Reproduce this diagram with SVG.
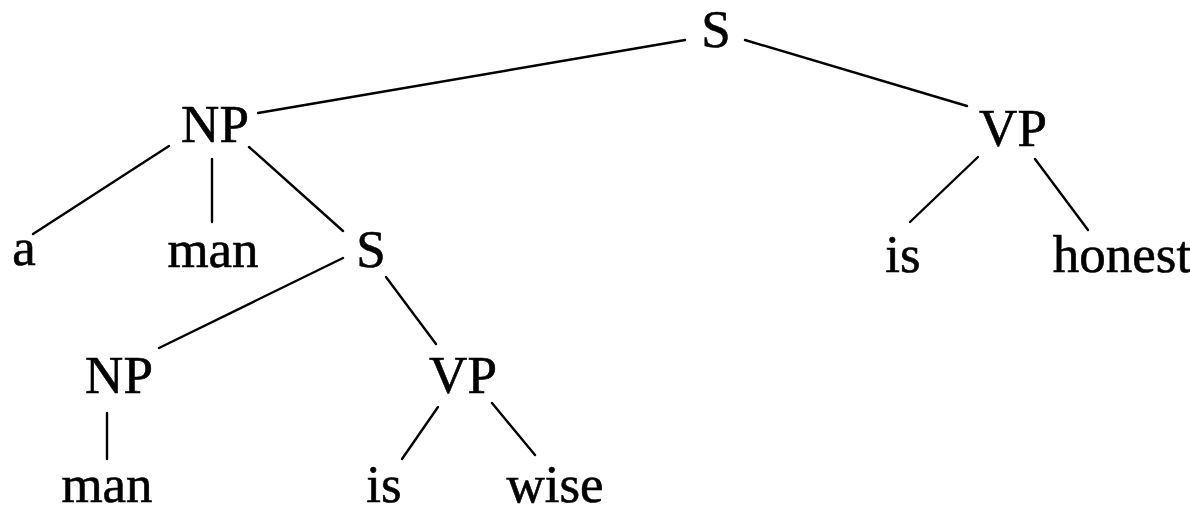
<svg xmlns="http://www.w3.org/2000/svg" width="1190" height="512" viewBox="0 0 1190 512">
<style>
  .lbl { font-family: "Liberation Serif", "Times New Roman", serif; font-size: 53px; fill: #000; stroke: #000; stroke-width: 0.6; text-anchor: middle; }
  .edge { stroke: #000; stroke-width: 2.4; fill: none; stroke-linecap: round; }
</style>
<rect width="1190" height="512" fill="#fff"/>
<g id="connectors">
  <line class="edge" x1="685" y1="40" x2="258" y2="113"/>
  <line class="edge" x1="745" y1="40" x2="967" y2="106"/>
  <line class="edge" x1="169" y1="146" x2="33" y2="234"/>
  <line class="edge" x1="212" y1="159" x2="212" y2="222"/>
  <line class="edge" x1="249" y1="147" x2="343" y2="231"/>
  <line class="edge" x1="343" y1="258" x2="159" y2="348"/>
  <line class="edge" x1="386" y1="277" x2="436" y2="344"/>
  <line class="edge" x1="978" y1="157" x2="910" y2="222"/>
  <line class="edge" x1="1035" y1="159" x2="1088" y2="230"/>
  <line class="edge" x1="107" y1="413" x2="107" y2="459"/>
  <line class="edge" x1="438" y1="407" x2="402" y2="459"/>
  <line class="edge" x1="492" y1="403" x2="535" y2="455"/>
</g>
<g id="n-S"><text class="lbl" x="716" y="47">S</text></g>
<g id="n-NP1"><text class="lbl" x="215" y="142">NP</text></g>
<g id="n-VP1"><text class="lbl" x="1013" y="146">VP</text></g>
<g id="n-a"><text class="lbl" x="24" y="265">a</text></g>
<g id="n-man1"><text class="lbl" x="213" y="267">man</text></g>
<g id="n-S2"><text class="lbl" x="371" y="267">S</text></g>
<g id="n-is1"><text class="lbl" x="903" y="272">is</text></g>
<g id="n-honest"><text class="lbl" x="1122" y="272">honest</text></g>
<g id="n-NP2"><text class="lbl" x="119" y="393">NP</text></g>
<g id="n-VP2"><text class="lbl" x="463" y="393">VP</text></g>
<g id="n-man2"><text class="lbl" x="107" y="502">man</text></g>
<g id="n-is2"><text class="lbl" x="384" y="502">is</text></g>
<g id="n-wise"><text class="lbl" x="555" y="502">wise</text></g>
</svg>
